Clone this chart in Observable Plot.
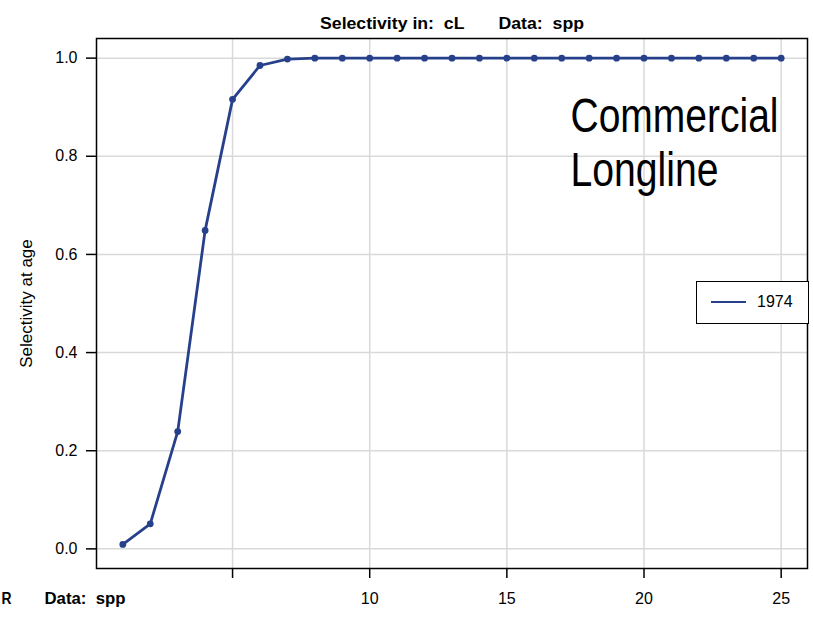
<!DOCTYPE html>
<html>
<head>
<meta charset="utf-8">
<script src="https://cdn.jsdelivr.net/npm/d3@7"></script>
<script src="https://cdn.jsdelivr.net/npm/@observablehq/plot@0.6"></script>
<style>
  html, body { margin: 0; padding: 0; background: #fff; }
  #chart { position: relative; width: 813px; height: 618px; }
  .legend { position: absolute; left: 696px; top: 281px; width: 113px; height: 43px;
    box-sizing: border-box; border: 1.5px solid #000; background: #fff;
    font-family: "Liberation Sans", Arial, sans-serif; font-size: 16px; }
  .legend .sw { position: absolute; left: 14px; top: 19px; width: 35px; height: 0; border-top: 2.5px solid #27408b; }
  .legend .lb { position: absolute; left: 60px; top: 11px; }
</style>
</head>
<body>
<div id="chart"></div>
<script>
const ages = [1,2,3,4,5,6,7,8,9,10,11,12,13,14,15,16,17,18,19,20,21,22,23,24,25];
const selectivity = [0.009,0.051,0.239,0.649,0.916,0.985,0.998,1,1,1,1,1,1,1,1,1,1,1,1,1,1,1,1,1,1];
const xTicks = [5,10,15,20,25];
const yTicks = [0,0.2,0.4,0.6,0.8,1.0];
const seriesName = "1974";
const titleText = "Selectivity in:  cL       Data:  spp";
const bottomA = "R";
const bottomB = "Data:  spp";
const yLabel = "Selectivity at age";
const panelLabel = "Commercial\nLongline";

const data = ages.map((a, i) => ({age: a, sel: selectivity[i]}));
const blue = "#27408b";
const ff = "'Liberation Sans', Arial, sans-serif";

const plot = Plot.plot({
  width: 813,
  height: 618,
  marginLeft: 96,
  marginRight: 6,
  marginTop: 38,
  marginBottom: 50,
  style: {fontFamily: ff, fontSize: "16px", whiteSpace: "pre", background: "#fff"},
  x: {domain: [0.04, 25.96]},
  y: {domain: [-0.04, 1.04]},
  marks: [
    Plot.gridX(xTicks, {stroke: "#d9d9d9", strokeOpacity: 1, strokeWidth: 1.5}),
    Plot.gridY(yTicks, {stroke: "#d9d9d9", strokeOpacity: 1, strokeWidth: 1.5}),
    Plot.axisX({ticks: xTicks, tickSize: 10, tickPadding: 14, tickFormat: d => d === 5 ? "" : String(d), label: null, fontSize: 16, stroke: "#000", strokeWidth: 1.5}),
    Plot.axisY({ticks: yTicks, tickSize: 10, tickPadding: 9, tickFormat: d3.format(".1f"), label: null, fontSize: 16, stroke: "#000", strokeWidth: 1.5}),
    Plot.frame({stroke: "#000", strokeWidth: 1.5}),
    Plot.line(data, {x: "age", y: "sel", stroke: blue, strokeWidth: 2.8}),
    Plot.dot(data, {x: "age", y: "sel", fill: blue, r: 3.4}),
    Plot.text([panelLabel], {frameAnchor: "top-left", textAnchor: "start", lineAnchor: "top", dx: 474, dy: 55, fontSize: 48, lineHeight: 1.13, fill: "#000"}),
    Plot.text([titleText], {frameAnchor: "top", dy: -21, fontSize: 16, fontWeight: "bold", fill: "#000"}),
    Plot.text([bottomA], {frameAnchor: "bottom-left", textAnchor: "start", dx: -95, dy: 35, fontSize: 16, fontWeight: "bold", fill: "#000"}),
    Plot.text([bottomB], {frameAnchor: "bottom-left", textAnchor: "start", dx: -52, dy: 35, fontSize: 16, fontWeight: "bold", fill: "#000"}),
    Plot.text([yLabel], {frameAnchor: "left", textAnchor: "middle", dx: -70, rotate: -90, fontSize: 17, fill: "#000"})
  ]
});

// condense texts (narrow face is unavailable) to the widths seen in the reference
const targetWidths = new Map([
  ["Commercial", 208], ["Longline", 148],
  [titleText, 264], [bottomB, 81], [bottomA, 10]
]);
d3.select(plot).selectAll("text, tspan").each(function() {
  const el = this;
  if (el.tagName === "text" && el.querySelector("tspan")) return;
  const t = el.textContent;
  if (targetWidths.has(t)) {
    el.setAttribute("textLength", targetWidths.get(t));
    el.setAttribute("lengthAdjust", "spacingAndGlyphs");
  }
});

const chart = document.getElementById("chart");
chart.appendChild(plot);
const leg = document.createElement("div");
leg.className = "legend";
leg.innerHTML = `<div class="sw"></div><div class="lb">${seriesName}</div>`;
chart.appendChild(leg);
</script>
</body>
</html>
